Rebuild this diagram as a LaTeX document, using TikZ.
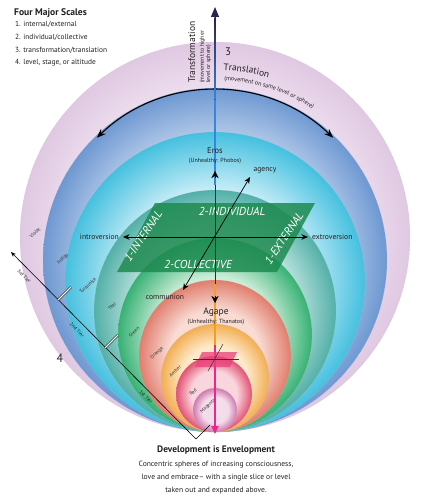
\documentclass[tikz,border=0pt]{standalone}
\usepackage{fontspec}
\setmainfont{PT Sans}
\usetikzlibrary{arrows.meta,decorations.text}
\definecolor{violetE}{HTML}{E0C8E2}
\definecolor{violetI}{HTML}{F5ECF6}
\definecolor{indigoE}{HTML}{6E98D2}
\definecolor{indigoI}{HTML}{D2E0F2}
\definecolor{turqE}{HTML}{45C0DF}
\definecolor{turqI}{HTML}{CCEFF8}
\definecolor{tealE}{HTML}{52B0A8}
\definecolor{tealI}{HTML}{D0ECE8}
\definecolor{greenE}{HTML}{36B174}
\definecolor{greenI}{HTML}{CCEDD8}
\definecolor{orangeE}{HTML}{E07E6E}
\definecolor{orangeI}{HTML}{F9DCD4}
\definecolor{amberE}{HTML}{F2AE52}
\definecolor{amberI}{HTML}{FDE9CA}
\definecolor{redE}{HTML}{E25274}
\definecolor{redI}{HTML}{F9D6DE}
\definecolor{magE}{HTML}{CF7AAF}
\definecolor{magI}{HTML}{F4DDEA}
\definecolor{plane}{HTML}{1E8A50}
\definecolor{pinkplane}{HTML}{E8407A}
\definecolor{txt}{HTML}{231F20}
\definecolor{axblue}{HTML}{3A84DC}
\definecolor{axtop}{HTML}{2A2450}
\definecolor{axorange}{HTML}{F2A024}
\definecolor{axpink}{HTML}{E8288A}
\newcommand\mksphere[3]{\pgfdeclareradialshading{#1}{\pgfpoint{0bp}{0bp}}{color(0bp)=(#2); color(15bp)=(#2); color(25bp)=(#3); color(50bp)=(#3)}}
\mksphere{shViolet}{violetI}{violetE}
\mksphere{shIndigo}{indigoI}{indigoE}
\mksphere{shTurq}{turqI}{turqE}
\mksphere{shTeal}{tealI}{tealE}
\mksphere{shGreen}{greenI}{greenE}
\mksphere{shOrange}{orangeI}{orangeE}
\mksphere{shAmber}{amberI}{amberE}
\mksphere{shRed}{redI}{redE}
\mksphere{shMag}{magI}{magE}
\begin{document}
\begin{tikzpicture}[x=1pt,y=-1pt,
  ring/.style={draw=black!22, densely dotted, line width=0.35pt},
  ringlabel/.style={font=\fontsize{5}{5}\selectfont, text=black!80, rotate=43, inner sep=0.5pt},
  tierlabel/.style={font=\fontsize{5}{5}\selectfont, text=black!85, rotate=-45, inner sep=0.5pt},
  lbl/.style={font=\fontsize{7.6}{8}\selectfont, text=txt, inner sep=1pt},
  small/.style={font=\fontsize{6}{6.5}\selectfont, text=txt, inner sep=0.5pt},
  planetext/.style={font=\fontsize{11.5}{12}\selectfont\itshape, text=white, inner sep=0pt},
  dtip/.style={{Stealth[length=6.5pt,width=5.5pt]}-{Stealth[length=6.5pt,width=5.5pt]}},
]
\useasboundingbox (0,0) rectangle (429,500);
% spheres
\shadedraw[ring, shading=shViolet] (215,237) circle[radius=195];
\shadedraw[ring, shading=shIndigo] (215,260) circle[radius=172];
\shadedraw[ring, shading=shTurq] (215,282) circle[radius=150];
\shadedraw[ring, shading=shTeal] (215,311) circle[radius=121];
\shadedraw[ring, shading=shGreen] (215,335) circle[radius=97];
\shadedraw[ring, shading=shOrange] (215,356) circle[radius=76];
\shadedraw[ring, shading=shAmber] (215,378) circle[radius=54];
\shadedraw[ring, shading=shRed] (214,394) circle[radius=38];
\shadedraw[ring, shading=shMag] (215,410) circle[radius=22];
% ring labels
\node[ringlabel] (lv) at (35,233) {Violet};
\node[ringlabel] (li) at (63,259) {Indigo};
\node[ringlabel] (lt) at (88,286) {Turquoise};
\node[ringlabel] (lte) at (112,306) {Teal};
\node[ringlabel] (lg) at (134,332) {Green};
\node[ringlabel] (lo) at (157,353) {Orange};
\node[ringlabel] (la) at (175,371) {Amber};
\node[ringlabel] (lr) at (193,392) {Red};
\node[ringlabel] (lm) at (208,406) {Magenta};
% tier line
\coordinate (T0) at (11,252);
\coordinate (T1) at (58,300);
\coordinate (T2) at (105,348);
\coordinate (T3) at (196,439);
\coordinate (T1e) at (71,287);
\coordinate (T2e) at (118,335);
\coordinate (T3e) at (210,425);
\draw[line width=0.6pt, -{Stealth[length=5pt,width=4pt]}] (T3) -- (T0);
\draw[line width=0.45pt, double distance=1.4pt] (T1) -- (T1e);
\draw[line width=0.45pt, double distance=1.4pt] (T2) -- (T2e);
\draw[line width=0.6pt] (T3) -- (T3e);
\node[tierlabel] (t3) at (24,276) {3rd Tier};
\node[tierlabel] (t2) at (77,330) {2nd Tier};
\node[tierlabel] (t1) at (146,397) {1st Tier};
\node[font=\fontsize{12}{12}\selectfont, text=txt] (four) at (60,358) {4};
% translation arc
\coordinate (C) at (215,260);
\draw[line width=1.1pt, {Stealth[length=9pt,width=7pt]}-{Stealth[length=9pt,width=7pt]}]
  (C) ++(-134:170) arc[start angle=-134, end angle=-46, radius=170];
\path[decorate, decoration={text along path, text={|\fontsize{9.5}{10}\selectfont\color{txt}|Translation}, text align={left indent=0pt}}]
  (C) ++(-87.5:190) arc[start angle=-87.5, end angle=-60, radius=190];
\path[decorate, decoration={text along path, text={|\fontsize{6}{6}\selectfont\color{txt}|(movement on same level or sphere)}, text align={left indent=0pt}}]
  (C) ++(-87:180) arc[start angle=-87, end angle=-40, radius=180];
\node[font=\fontsize{11}{11}\selectfont, text=txt] (three) at (228,52) {3};
\node[rotate=90, anchor=base west, font=\fontsize{9.5}{10}\selectfont, text=txt, inner sep=0pt] (trf) at (195,83) {Transformation};
\node[rotate=90, anchor=north west, align=left, font=\fontsize{5.8}{6.3}\selectfont, text=txt, inner sep=0pt] (trfs) at (199.5,83) {(movement to higher\\level or sphere)};
% green plane
\coordinate (P1) at (155,203);
\coordinate (P2) at (315,203);
\coordinate (P3) at (277,272);
\coordinate (P4) at (117,272);
\fill[plane, opacity=0.85] (P1) -- (P2) -- (P3) -- (P4) -- cycle;
\node[planetext] (ind) at (232,211) {2-INDIVIDUAL};
\node[planetext] (col) at (198,264) {2-COLLECTIVE};
\node[planetext, rotate=56] (int) at (143,236) {1-INTERNAL};
\node[planetext, rotate=56] (ext) at (284,238) {1-EXTERNAL};
% vertical axis
\coordinate (top) at (215,7);
\coordinate (bot) at (215,434);
\coordinate (O) at (215,237);
\draw[line width=2.6pt, black!85] (215,18) -- (215,185);
\shade[top color=axtop, bottom color=axblue] (214.3,18) rectangle (215.7,100);
\draw[line width=1.4pt, axblue] (215,100) -- (215,185);
\draw[line width=1pt, -{Triangle[length=10pt,width=8pt]}, axtop] (215,20) -- (top);
\draw[line width=1pt, green!30!black] (215,185) -- (215,284);
\draw[line width=2.2pt, axorange!80!black] (215,284) -- (215,345);
\draw[line width=1.4pt, axorange] (215,284) -- (215,345);
\draw[line width=1.8pt, axpink, -{Triangle[length=8pt,width=7pt]}] (215,345) -- (bot);
\draw[line width=0.3pt, -{Stealth[length=7pt,width=7pt]}] (215,178) -- (215,171);
\draw[line width=0.3pt, -{Stealth[length=7pt,width=7pt]}] (215,296) -- (215,303);
% axes through plane
\coordinate (intro) at (123,237);
\coordinate (extro) at (308,237);
\coordinate (agency) at (250,177);
\coordinate (comm) at (183,290);
\draw[dtip, line width=0.7pt] (intro) -- (extro);
\draw[dtip, line width=0.7pt] (comm) -- (agency);
\node[lbl, anchor=east] (introT) at (120,237) {introversion};
\node[lbl, anchor=west] (extroT) at (311,237) {extroversion};
\node[lbl] (agencyT) at (265,170) {agency};
\node[lbl] (commT) at (165,297) {communion};
\node[font=\fontsize{8.5}{9}\selectfont, text=txt, inner sep=0.5pt] (eros) at (215,151) {Eros};
\node[small] (erosU) at (215,161.5) {(Unhealthy: Phobos)};
\node[font=\fontsize{9.5}{10}\selectfont, text=txt, inner sep=0.5pt] (agape) at (216,312) {Agape};
\node[small] (agapeU) at (216,322.5) {(Unhealthy: Thanatos)};
% small slice
\coordinate (S1) at (202,352);
\coordinate (S2) at (237,352);
\coordinate (S3) at (230,367);
\coordinate (S4) at (195,367);
\fill[pinkplane, opacity=0.75] (S1) -- (S2) -- (S3) -- (S4) -- cycle;
\coordinate (SL) at (193,359);
\coordinate (SR) at (239,359);
\coordinate (SA) at (208,371);
\coordinate (SB) at (223,344);
\draw[line width=0.5pt, black!80] (SL) -- (SR);
\draw[line width=0.5pt, black!80] (SA) -- (SB);
% top-left legend
\node[anchor=base west, font=\fontsize{9.6}{10}\selectfont\bfseries, text=txt, inner sep=0pt] (leg) at (14,15.5) {Four Major Scales};
\node[anchor=base west, font=\fontsize{7.4}{8}\selectfont, text=txt, inner sep=0pt] (leg1) at (15,27) {1. internal/external};
\node[anchor=base west, font=\fontsize{7.4}{8}\selectfont, text=txt, inner sep=0pt] (leg2) at (15,39.5) {2. individual/collective};
\node[anchor=base west, font=\fontsize{7.4}{8}\selectfont, text=txt, inner sep=0pt] (leg3) at (15,52.5) {3. transformation/translation};
\node[anchor=base west, font=\fontsize{7.4}{8}\selectfont, text=txt, inner sep=0pt] (leg4) at (15,65) {4. level, stage, or altitude};
% bottom caption
\node[anchor=base, font=\fontsize{9.4}{10}\selectfont\bfseries, text=txt, inner sep=0pt] (cap) at (216,452.5) {Development is Envelopment};
\node[anchor=base, font=\fontsize{7.6}{8}\selectfont, text=txt, inner sep=0pt] (cap1) at (216,466) {Concentric spheres of increasing consciousness,};
\node[anchor=base, font=\fontsize{7.6}{8}\selectfont, text=txt, inner sep=0pt] (cap2) at (216,479) {love and embrace-- with a single slice or level};
\node[anchor=base, font=\fontsize{7.6}{8}\selectfont, text=txt, inner sep=0pt] (cap3) at (216,492) {taken out and expanded above.};
\end{tikzpicture}
\end{document}
